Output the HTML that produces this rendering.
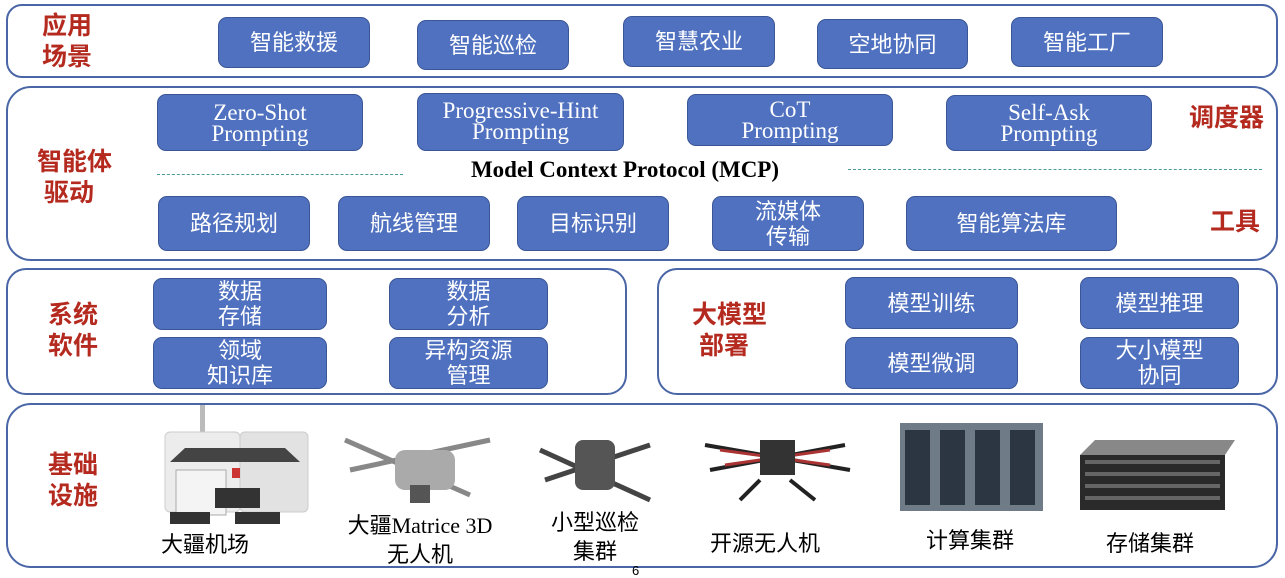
<!DOCTYPE html>
<html><head><meta charset="utf-8"><style>
*{margin:0;padding:0;box-sizing:border-box}
body{width:1285px;height:574px;background:#fff;position:relative;overflow:hidden;font-family:"Liberation Sans","Noto Sans CJK SC",sans-serif}
.p{position:absolute;border:2px solid #4a66a6;background:#fff}
.b{position:absolute;background:#4f71bf;border:1.5px solid #3a5696;border-radius:9px;color:#fff;display:flex;align-items:center;justify-content:center;text-align:center;font-size:22px;line-height:25px}
.s{font-family:"Liberation Serif","Noto Serif CJK SC",serif;font-size:23px;line-height:21px}
.r{position:absolute;color:#b52a1f;font-weight:bold;font-size:25px;line-height:31px}
.t{position:absolute;font-size:22px;line-height:29px;text-align:center;color:#000}
.d{position:absolute;border-top:1.5px dashed #4a9a9a;height:0}
</style></head><body>
<div class="p" style="left:6px;top:4px;width:1272px;height:74px;border-radius:16px"></div>
<div class="p" style="left:6px;top:86px;width:1272px;height:175px;border-radius:25px"></div>
<div class="p" style="left:6px;top:268px;width:621px;height:127px;border-radius:20px"></div>
<div class="p" style="left:657px;top:268px;width:621px;height:127px;border-radius:20px"></div>
<div class="p" style="left:6px;top:403px;width:1272px;height:165px;border-radius:25px"></div>

<div class="r" style="left:42px;top:11px">应用<br>场景</div>
<div class="r" style="left:37px;top:147px">智能体<br>&nbsp;驱动</div>
<div class="r" style="left:1189px;top:103px">调度器</div>
<div class="r" style="left:1210px;top:207px">工具</div>
<div class="r" style="left:48px;top:300px">系统<br>软件</div>
<div class="r" style="left:692px;top:300px">大模型<br>&nbsp;部署</div>
<div class="r" style="left:48px;top:450px">基础<br>设施</div>

<div class="b" style="left:218px;top:17px;width:152px;height:51px">智能救援</div>
<div class="b" style="left:417px;top:20px;width:152px;height:50px">智能巡检</div>
<div class="b" style="left:623px;top:16px;width:152px;height:51px">智慧农业</div>
<div class="b" style="left:817px;top:19px;width:151px;height:50px">空地协同</div>
<div class="b" style="left:1011px;top:17px;width:152px;height:50px">智能工厂</div>

<div class="b s" style="left:157px;top:94px;width:206px;height:57px">Zero-Shot<br>Prompting</div>
<div class="b s" style="left:417px;top:93px;width:207px;height:58px;align-items:flex-start;padding-top:6px">Progressive-Hint<br>Prompting</div>
<div class="b s" style="left:687px;top:94px;width:206px;height:52px">CoT<br>Prompting</div>
<div class="b s" style="left:946px;top:95px;width:206px;height:56px">Self-Ask<br>Prompting</div>

<div class="d" style="left:157px;top:174px;width:246px"></div>
<div class="d" style="left:848px;top:169px;width:414px"></div>
<div style="position:absolute;left:425px;top:157px;width:400px;text-align:center;font-family:'Liberation Serif',serif;font-weight:bold;font-size:23px">Model Context Protocol (MCP)</div>

<div class="b" style="left:158px;top:196px;width:152px;height:55px">路径规划</div>
<div class="b" style="left:338px;top:196px;width:152px;height:55px">航线管理</div>
<div class="b" style="left:517px;top:196px;width:152px;height:55px">目标识别</div>
<div class="b" style="left:712px;top:196px;width:152px;height:55px">流媒体<br>传输</div>
<div class="b" style="left:906px;top:196px;width:211px;height:55px">智能算法库</div>

<div class="b" style="left:153px;top:278px;width:174px;height:52px">数据<br>存储</div>
<div class="b" style="left:389px;top:278px;width:159px;height:52px">数据<br>分析</div>
<div class="b" style="left:153px;top:337px;width:174px;height:52px">领域<br>知识库</div>
<div class="b" style="left:389px;top:337px;width:159px;height:52px">异构资源<br>管理</div>

<div class="b" style="left:845px;top:277px;width:173px;height:52px">模型训练</div>
<div class="b" style="left:1080px;top:277px;width:159px;height:52px">模型推理</div>
<div class="b" style="left:845px;top:337px;width:173px;height:52px">模型微调</div>
<div class="b" style="left:1080px;top:337px;width:159px;height:52px">大小模型<br>协同</div>

<svg style="position:absolute;left:0;top:0" width="1285" height="574">
<rect x="200" y="405" width="5" height="30" fill="#bbb"/>
<rect x="165" y="432" width="75" height="80" rx="5" fill="#ececec" stroke="#ccc"/>
<rect x="240" y="432" width="68" height="80" rx="5" fill="#e2e2e2" stroke="#ccc"/>
<polygon points="170,462 300,462 285,448 185,448" fill="#444"/>
<rect x="176" y="470" width="50" height="45" fill="#f4f4f4" stroke="#aaa"/>
<rect x="232" y="468" width="8" height="10" fill="#c33"/>
<rect x="215" y="488" width="45" height="20" fill="#333"/>
<rect x="170" y="512" width="40" height="12" fill="#333"/><rect x="235" y="512" width="45" height="12" fill="#333"/>
<g stroke="#888" stroke-width="5"><line x1="345" y1="440" x2="470" y2="495"/><line x1="490" y1="440" x2="350" y2="470"/></g>
<rect x="395" y="450" width="60" height="40" rx="10" fill="#aaa"/>
<rect x="410" y="485" width="20" height="18" fill="#555"/>
<g stroke="#444" stroke-width="5"><line x1="540" y1="450" x2="650" y2="500"/><line x1="650" y1="445" x2="545" y2="480"/></g>
<rect x="575" y="440" width="40" height="50" rx="8" fill="#555"/>
<g stroke="#222" stroke-width="4"><line x1="705" y1="445" x2="850" y2="470"/><line x1="845" y1="445" x2="710" y2="470"/><line x1="760" y1="480" x2="740" y2="500"/><line x1="790" y1="480" x2="815" y2="500"/></g>
<g stroke="#a33" stroke-width="3"><line x1="720" y1="450" x2="830" y2="465"/><line x1="830" y1="450" x2="725" y2="465"/></g>
<rect x="760" y="440" width="35" height="35" fill="#333"/>
<rect x="900" y="423" width="143" height="88" fill="#6f7c88"/>
<g fill="#2b3642"><rect x="905" y="430" width="25" height="75"/><rect x="940" y="430" width="25" height="75"/><rect x="975" y="430" width="25" height="75"/><rect x="1010" y="430" width="25" height="75"/></g>
<polygon points="1080,455 1095,440 1235,440 1225,455" fill="#888"/>
<rect x="1080" y="455" width="145" height="55" fill="#2a2a2a"/>
<g fill="#666"><rect x="1085" y="460" width="135" height="4"/><rect x="1085" y="472" width="135" height="4"/><rect x="1085" y="484" width="135" height="4"/><rect x="1085" y="496" width="135" height="4"/></g>
</svg>

<div class="t" style="left:150px;top:530px;width:110px">大疆机场</div>
<div class="t" style="left:325px;top:511px;width:190px"><span>大疆</span><span style="font-family:'Liberation Serif',serif">Matrice 3D</span><br>无人机</div>
<div class="t" style="left:530px;top:508px;width:130px">小型巡检<br>集群</div>
<div class="t" style="left:700px;top:529px;width:130px">开源无人机</div>
<div class="t" style="left:910px;top:526px;width:120px">计算集群</div>
<div class="t" style="left:1090px;top:529px;width:120px">存储集群</div>
<div style="position:absolute;left:632px;top:563px;font-size:13px">6</div>
</body></html>
